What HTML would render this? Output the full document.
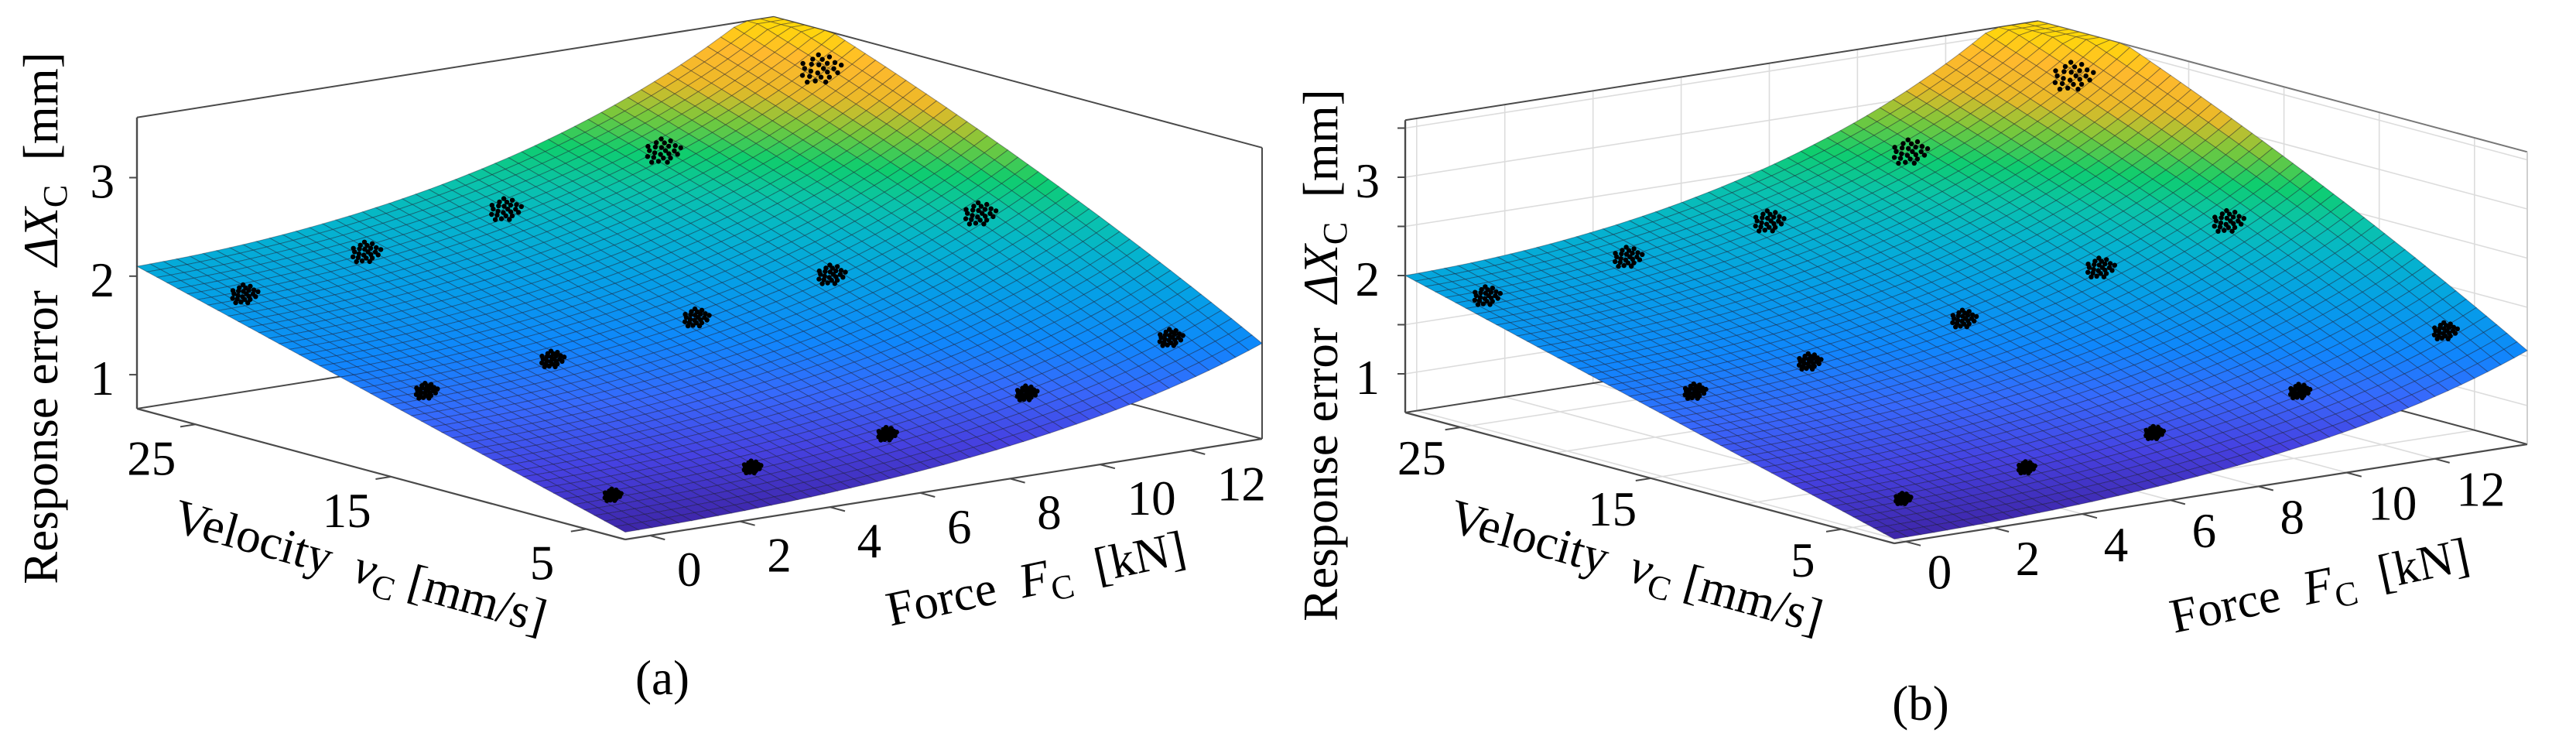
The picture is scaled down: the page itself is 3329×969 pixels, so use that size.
<!DOCTYPE html>
<html><head><meta charset="utf-8"><title>Response error surfaces</title>
<style>
html,body{margin:0;padding:0;background:#fff;}
svg, svg text, svg tspan{font-family:"Liberation Serif","DejaVu Serif","Noto Serif CJK SC","Times New Roman",serif !important;}
</style></head>
<body>
<svg id="chart" xmlns="http://www.w3.org/2000/svg" width="3329" height="964" viewBox="0 0 3329 964">
<g id="panelA"></g>
<g id="panelB"></g>
<g font-size="63" fill="#000">
  <text transform="translate(74,411) rotate(-90)" text-anchor="middle">Response error&#160;&#160;<tspan font-style="italic">ΔX</tspan><tspan font-size="44" dy="12">C</tspan><tspan dy="-12">&#160;&#160;[mm]</tspan></text>
  <text transform="translate(460,752) rotate(15.5)" text-anchor="middle">Velocity&#160;&#160;<tspan font-style="italic">v</tspan><tspan font-size="44" dy="12">C</tspan><tspan dy="-12">&#160;[mm/s]</tspan></text>
  <text transform="translate(1343,768) rotate(-12)" text-anchor="middle">Force&#160;&#160;<tspan font-style="italic">F</tspan><tspan font-size="44" dy="12">C</tspan><tspan dy="-12">&#160;&#160;[kN]</tspan></text>
  <text x="856" y="897" text-anchor="middle">(a)</text>
  <text transform="translate(1728,459) rotate(-90)" text-anchor="middle">Response error&#160;&#160;<tspan font-style="italic">ΔX</tspan><tspan font-size="44" dy="12">C</tspan><tspan dy="-12">&#160;&#160;[mm]</tspan></text>
  <text transform="translate(2109,752) rotate(15.5)" text-anchor="middle">Velocity&#160;&#160;<tspan font-style="italic">v</tspan><tspan font-size="44" dy="12">C</tspan><tspan dy="-12">&#160;[mm/s]</tspan></text>
  <text transform="translate(3002,777) rotate(-12)" text-anchor="middle">Force&#160;&#160;<tspan font-style="italic">F</tspan><tspan font-size="44" dy="12">C</tspan><tspan dy="-12">&#160;&#160;[kN]</tspan></text>
  <text x="2482" y="930" text-anchor="middle">(b)</text>
</g>
</svg>
<script>
// ---- tick data ----
const forceTicks = [0, 2, 4, 6, 8, 10, 12];
const velocityTicks = [5, 15, 25];
const zTicks = [1, 2, 3];
const zGridB = [1, 1.5, 2, 2.5, 3, 3.5];
const velocityGridB = [5, 10, 15, 20, 25];
// ---- surface fit coefficients (z = (b0 + b1*w) * exp(c0*u + (c1 + c2*w)*u^2)) ----
const surfaceBaseA = [0.73, 1.37];
const surfaceCurveA = [0.05, 0.75, -0.2];
const surfaceBaseB = [0.65, 1.35];
const surfaceCurveB = [0.05, 0.825, -0.2];
// ---- measured clusters (rows: velocity levels) ----
const clusterVelocityA = [4, 14, 24];
const clusterForceA = [[-0.4, 2.7, 5.7, 8.8, 12.0], [-0.2, 2.6, 5.8, 8.8, 12.1], [0.1, 2.8, 5.9, 9.4, 12.9]];
const clusterZA = [[1.04, 1.10, 1.22, 1.41, 1.74], [1.55, 1.67, 1.86, 2.08, 2.46], [1.98, 2.21, 2.42, 2.76, 3.34]];
const clusterVelocityB = [4, 14, 24];
const clusterForceB = [[0.7, 3.5, 6.4, 9.7, 13.0], [0.3, 2.9, 6.4, 9.5, 12.4], [-0.1, 3.1, 6.3, 9.5, 13.2]];
const clusterZB = [[0.90, 1.02, 1.17, 1.36, 1.74], [1.50, 1.62, 1.81, 2.11, 2.38], [1.98, 2.15, 2.29, 2.77, 3.28]];

const NS = 'http://www.w3.org/2000/svg';
const stops = [[0,62,38,168],[0.1,70,65,225],[0.2,55,105,252],[0.3,15,135,252],[0.42,5,160,230],[0.52,5,180,205],[0.6,10,195,170],[0.68,15,205,110],[0.76,120,200,60],[0.84,235,185,40],[0.93,255,185,45],[1,255,215,10]];
function cmap(t){
  t=Math.max(0,Math.min(1,t));
  for(let i=1;i<stops.length;i++){
    if(t<=stops[i][0]){
      const a=stops[i-1],b=stops[i],f=(t-a[0])/(b[0]-a[0]);
      return 'rgb('+[1,2,3].map(k=>Math.round(a[k]+(b[k]-a[k])*f)).join(',')+')';
    }
  }
  return 'rgb(255,215,10)';
}
function mk(tag,parent){const e=document.createElementNS(NS,tag);parent.appendChild(e);return e;}

function drawPanel(g,cfg){
  const P=(F,v,z)=>{
    const u=(F-cfg.F0)/(cfg.F1-cfg.F0), w=(v-cfg.v0)/(cfg.v1-cfg.v0);
    return [cfg.front[0]+u*cfg.R[0]+w*cfg.L[0], cfg.front[1]+u*cfg.R[1]+w*cfg.L[1]-(z-cfg.zmin)*cfg.zs];
  };
  const line=(a,b,stroke,wd,name)=>{
    const l=mk('line',g);
    
    
    l.setAttribute('x1',a[0].toFixed(1));l.setAttribute('y1',a[1].toFixed(1));
    l.setAttribute('x2',b[0].toFixed(1));l.setAttribute('y2',b[1].toFixed(1));
    l.setAttribute('stroke',stroke);l.setAttribute('stroke-width',wd);
  };
  const {F0,F1,v0,v1,zmin,zmax}=cfg;
  if(cfg.grid){
    const gc='#dcdcdc';
    zGridB.forEach(z=>{line(P(F0,v1,z),P(F1,v1,z),gc,1.6,'grid-line-z');line(P(F1,v1,z),P(F1,v0,z),gc,1.6,'grid-line-z');});
    forceTicks.forEach(F=>{line(P(F,v1,zmin),P(F,v1,zmax),gc,1.6,'grid-line-force');line(P(F,v0,zmin),P(F,v1,zmin),gc,1.6,'grid-line-force');});
    velocityGridB.forEach(v=>{line(P(F1,v,zmin),P(F1,v,zmax),gc,1.6,'grid-line-velocity');line(P(F0,v,zmin),P(F1,v,zmin),gc,1.6,'grid-line-velocity');});
  }
  const bc='#4a4a4a';
  line(P(F0,v1,zmin),P(F1,v1,zmin),bc,2,'box-edge');
  line(P(F1,v1,zmin),P(F1,v0,zmin),bc,2,'box-edge');
  line(P(F1,v1,zmin),P(F1,v1,zmax),bc,2,'box-edge');
  line(P(F0,v1,zmin),P(F0,v1,zmax),bc,2.4,'z-axis-line');
  line(P(F0,v1,zmax),P(F1,v1,zmax),bc,2,'box-edge');
  line(P(F1,v1,zmax),P(F1,v0,zmax),cfg.grid?'#777':bc,2,'box-edge');
  line(P(F1,v0,zmin),P(F1,v0,zmax),cfg.grid?'#cfcfcf':bc,2,'box-edge');
  const N=48, faces=[];
  const zf=(u,w)=>{
    const b=cfg.base, c=cfg.curve;
    const z=(b[0]+b[1]*w)*Math.exp(c[0]*u+(c[1]+c[2]*w)*u*u);
    return Math.min(z,zmax);
  };
  const pt=(u,w)=>P(F0+u*(F1-F0),v0+w*(v1-v0),zf(u,w));
  for(let i=0;i<N;i++)for(let j=0;j<N;j++)faces.push([i,j]);
  faces.sort((a,b)=>(b[0]+b[1])-(a[0]+a[1]));
  const sg=mk('g',g);
  
  
  faces.forEach(([i,j])=>{
    const u0=i/N,u1=(i+1)/N,w0=j/N,w1=(j+1)/N;
    const ps=[pt(u0,w0),pt(u1,w0),pt(u1,w1),pt(u0,w1)];
    const zc=(zf(u0,w0)+zf(u1,w0)+zf(u1,w1)+zf(u0,w1))/4;
    const p=mk('path',sg);
    
    
    p.setAttribute('d','M'+ps.map(q=>q[0].toFixed(1)+','+q[1].toFixed(1)).join('L')+'Z');
    p.setAttribute('fill',cmap((zc-cfg.cmin)/(zmax-cfg.cmin)));
    p.setAttribute('stroke','rgba(20,20,40,0.38)');
    p.setAttribute('stroke-width','1');
  });
  line(P(F0,v1,zmin),P(F0,v0,zmin),bc,2.2,'velocity-axis-line');
  line(P(F0,v0,zmin),P(F1,v0,zmin),bc,2.2,'force-axis-line');
  const Rn=Math.hypot(cfg.R[0],cfg.R[1]), Ln=Math.hypot(cfg.L[0],cfg.L[1]);
  const tg=mk('g',g);
  
  
  tg.setAttribute('font-size','63');
  const txt=(x,y,s,anchor,name)=>{
    const t=mk('text',tg);
    
    
    t.setAttribute('x',x.toFixed(1));t.setAttribute('y',y.toFixed(1));
    t.setAttribute('text-anchor',anchor);t.textContent=s;
  };
  zTicks.forEach(z=>{
    const b=P(F0,v1,z);
    line(b,[b[0]-10,b[1]],bc,2,'z-tick');
    txt(cfg.zLabelX,b[1]+26,String(z),'end','z-tick-label');
  });
  if(cfg.grid){ [1.5,2.5,3.5].forEach(z=>{const b=P(F0,v1,z);line(b,[b[0]-10,b[1]],bc,2,'z-minor-tick');}); }
  velocityTicks.forEach(v=>{
    const b=P(F0,v,zmin);
    line(b,[b[0]-cfg.R[0]/Rn*20,b[1]-cfg.R[1]/Rn*20],bc,2,'velocity-tick');
    txt(b[0]+cfg.vOff[0],b[1]+cfg.vOff[1],String(v),'middle','velocity-tick-label');
  });
  forceTicks.forEach(F=>{
    const b=P(F,v0,zmin);
    line(b,[b[0]-cfg.L[0]/Ln*20,b[1]-cfg.L[1]/Ln*20],bc,2,'force-tick');
    txt(b[0]+cfg.fOff[0],b[1]+cfg.fOff[1],String(F),'start','force-tick-label');
  });
  const cg=mk('g',g);
  
  
  cfg.cv.forEach((v,r)=>{
    cfg.cF[r].forEach((F,k)=>{
      const z=cfg.cZ[r][k], c=P(F,v,z);
      const spread=7+5*(z-0.8);
      const n=24;
      for(let i=0;i<n;i++){
        const rr=Math.sqrt((i+0.5)/n)*spread, a=i*2.39996;
        const d=mk('circle',cg);
        
        
        const dx=rr*Math.cos(a)*1.4, dy=rr*Math.sin(a)*0.9;
        d.setAttribute('cx',(c[0]+dx+dy*0.5).toFixed(1));
        d.setAttribute('cy',(c[1]+dy-dx*0.3).toFixed(1));
        d.setAttribute('r','3.2');
        d.setAttribute('fill','#000');
      }
    });
  });
}

drawPanel(document.getElementById('panelA'),{
  front:[808,697],R:[823,-130],L:[-631,-169],zs:127.3,zmin:0.655,zmax:3.61,cmin:0.73,
  F0:-0.55,F1:13.6,v0:3,v1:28,base:surfaceBaseA,curve:surfaceCurveA,grid:false,
  zLabelX:148,vOff:[-57,65],fOff:[35,65],
  cv:clusterVelocityA,cF:clusterForceA,cZ:clusterZA
});
drawPanel(document.getElementById('panelB'),{
  front:[2448,702],R:[818,-128],L:[-632,-169],zs:127,zmin:0.606,zmax:3.58,cmin:0.65,
  F0:-0.26,F1:14.1,v0:2.23,v1:27.9,base:surfaceBaseB,curve:surfaceCurveB,grid:true,
  zLabelX:1783,vOff:[-50,61],fOff:[28,61],
  cv:clusterVelocityB,cF:clusterForceB,cZ:clusterZB
});
</script>
</body></html>
